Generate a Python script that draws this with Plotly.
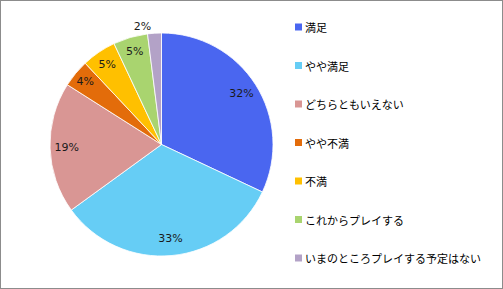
import plotly.graph_objects as go

categories = ["満足", "やや満足", "どちらともいえない", "やや不満", "不満", "これからプレイする", "いまのところプレイする予定はない"]
values = [32, 33, 19, 4, 5, 5, 2]
colors = ["#4a66f0", "#66cdf5", "#d99694", "#e36c0a", "#ffc000", "#a9d46f", "#b3a2c7"]

W, H = 503, 289
FONT = "Noto Sans CJK JP, Noto Sans, sans-serif"
LFONT = "DejaVu Sans, Verdana, sans-serif"
domain = dict(x=[50 / W, 273 / W], y=[(H - 256) / H, (H - 33) / H])

# main pie (no text)
fig = go.Figure(go.Pie(
    labels=categories, values=values, sort=False, direction="clockwise", rotation=0,
    marker=dict(colors=colors, line=dict(color="white", width=0.8)),
    textinfo="none", domain=domain, showlegend=False, hoverinfo="label+percent",
))
# transparent ring overlay that carries the percentage labels near the rim
fig.add_trace(go.Pie(
    labels=categories, values=values, sort=False, direction="clockwise", rotation=0,
    hole=0.7,
    marker=dict(colors=["rgba(0,0,0,0)"] * len(values), line=dict(width=0)),
    texttemplate="%{percent:.0%}",
    textposition=["inside"] * 6 + ["outside"],
    insidetextorientation="horizontal",
    textfont=dict(family=LFONT, size=11, color="#1a1a1a"),
    outsidetextfont=dict(family=LFONT, size=11, color="#1a1a1a"),
    domain=domain, showlegend=False, hoverinfo="skip",
))

shapes = [dict(type="rect", xref="paper", yref="paper", x0=0, y0=0, x1=1, y1=1,
               line=dict(color="#8c8c8c", width=2), fillcolor="rgba(0,0,0,0)")]
annotations = []
y0, step = 27, 38.5
for i, (cat, col) in enumerate(zip(categories, colors)):
    yc = y0 + step * i
    shapes.append(dict(type="rect", xref="paper", yref="paper",
                       x0=295 / W, x1=302 / W, y0=1 - (yc + 3.5) / H, y1=1 - (yc - 3.5) / H,
                       fillcolor=col, line=dict(width=0)))
    annotations.append(dict(text=cat, xref="paper", yref="paper", x=303 / W, y=1 - yc / H,
                            xanchor="left", yanchor="middle", showarrow=False,
                            font=dict(family=FONT, size=11, color="#000000")))

fig.update_layout(
    width=W, height=H, margin=dict(l=0, r=0, t=0, b=0),
    paper_bgcolor="white", plot_bgcolor="white",
    shapes=shapes, annotations=annotations,
)
fig.write_html("out.html")
